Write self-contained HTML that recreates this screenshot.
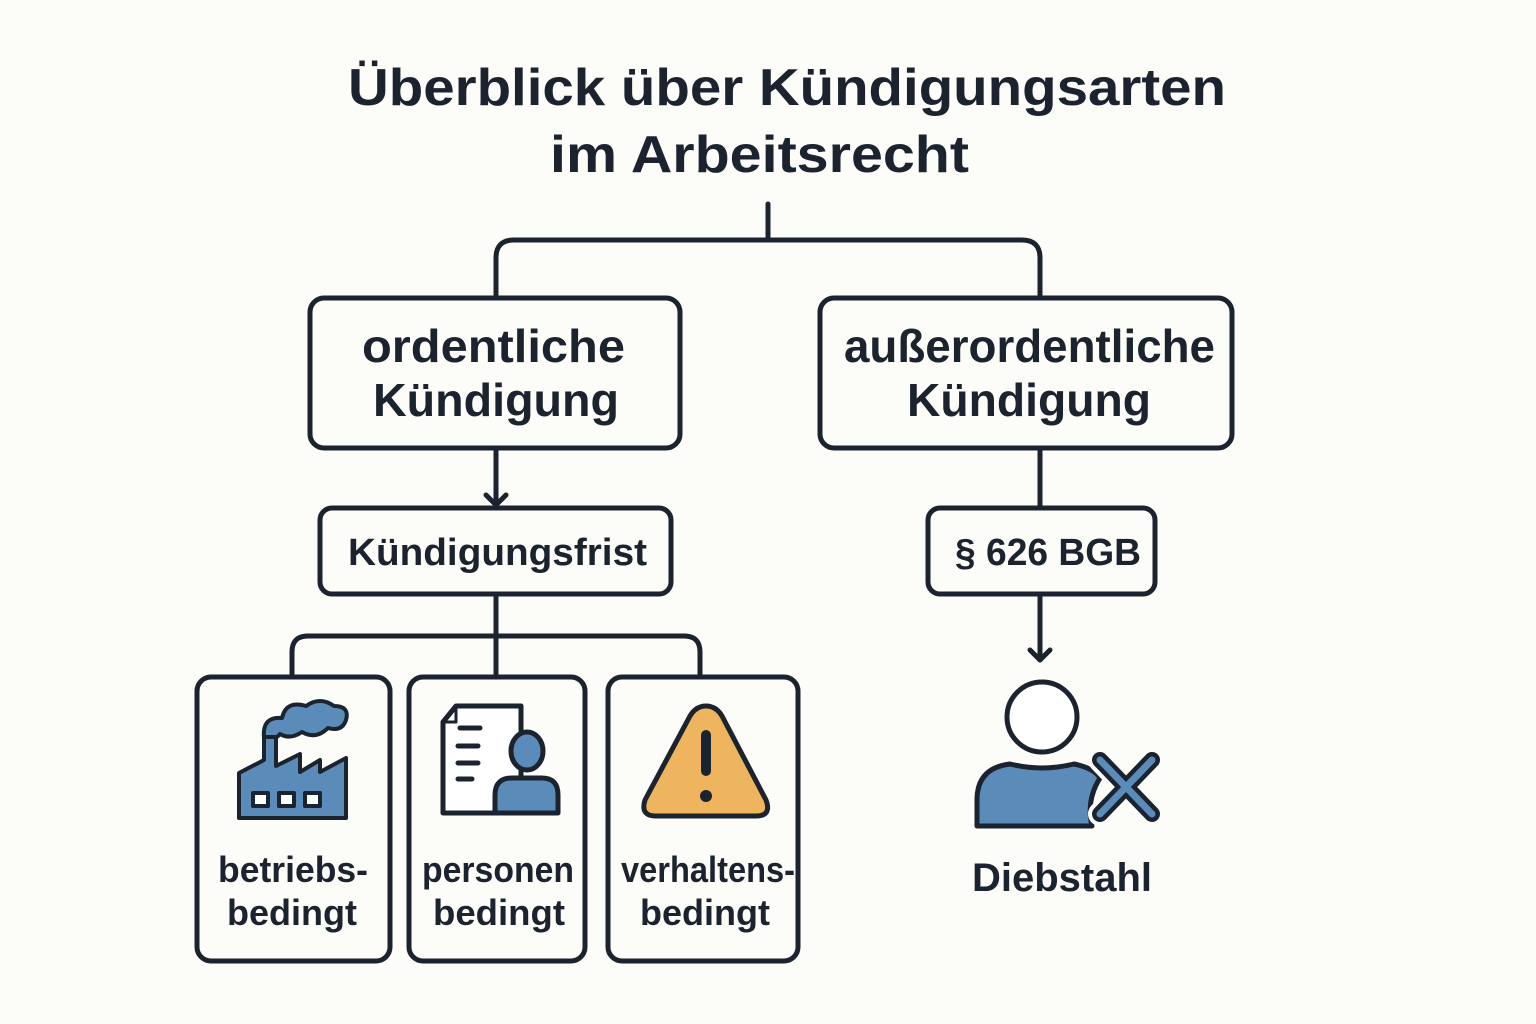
<!DOCTYPE html>
<html><head><meta charset="utf-8"><style>
html,body{margin:0;padding:0;background:#fcfcf9;}
svg{display:block}
text{font-family:"Liberation Sans","DejaVu Sans",sans-serif;fill:#1a232e;font-weight:bold}
</style></head><body>
<svg width="1536" height="1024" viewBox="0 0 1536 1024" xmlns="http://www.w3.org/2000/svg">
<rect width="1536" height="1024" fill="#fcfcf9"/>
<g font-size="52" lengthAdjust="spacingAndGlyphs">
<text x="348" y="105" textLength="878" lengthAdjust="spacingAndGlyphs">Überblick über Kündigungsarten</text>
<text x="550" y="172" textLength="419" lengthAdjust="spacingAndGlyphs">im Arbeitsrecht</text>
</g>
<g fill="none" stroke="#1a232e" stroke-width="5" stroke-linejoin="round" stroke-linecap="round">
<path d="M768 204 V240"/>
<path d="M496 298 V258 Q496 240 514 240 H1022 Q1040 240 1040 258 V298"/>
<rect x="310" y="298" width="370" height="150" rx="14"/>
<rect x="820" y="298" width="412" height="150" rx="14"/>
<path d="M496 448 V505"/>
<path d="M486 495 L496 505 L506 495"/>
<rect x="320" y="508" width="351" height="86" rx="12"/>
<path d="M1040 448 V508"/>
<rect x="928" y="508" width="227" height="86" rx="12"/>
<path d="M1040 594 V660"/>
<path d="M1030 650 L1040 660 L1050 650"/>
<path d="M496 594 V676"/>
<path d="M292 676 V652 Q292 636 308 636 H684 Q700 636 700 652 V676"/>
<rect x="197" y="677" width="193" height="284" rx="14"/>
<rect x="409" y="677" width="176" height="284" rx="14"/>
<rect x="608" y="677" width="190" height="284" rx="14"/>
</g>
<g font-size="46">
<text x="362" y="362" textLength="263" lengthAdjust="spacingAndGlyphs">ordentliche</text>
<text x="373" y="416" textLength="246" lengthAdjust="spacingAndGlyphs">Kündigung</text>
<text x="844" y="362" textLength="371" lengthAdjust="spacingAndGlyphs">außerordentliche</text>
<text x="907" y="416" textLength="244" lengthAdjust="spacingAndGlyphs">Kündigung</text>
</g>
<g font-size="38">
<text x="348" y="565" textLength="299" lengthAdjust="spacingAndGlyphs">Kündigungsfrist</text>
<text x="955" y="565" textLength="186" lengthAdjust="spacingAndGlyphs">§ 626 BGB</text>
</g>
<g font-size="36">
<text x="218" y="882" textLength="150" lengthAdjust="spacingAndGlyphs">betriebs-</text>
<text x="227" y="925" textLength="130" lengthAdjust="spacingAndGlyphs">bedingt</text>
<text x="422" y="882" textLength="152" lengthAdjust="spacingAndGlyphs">personen</text>
<text x="433" y="925" textLength="132" lengthAdjust="spacingAndGlyphs">bedingt</text>
<text x="621" y="882" textLength="174" lengthAdjust="spacingAndGlyphs">verhaltens-</text>
<text x="640" y="925" textLength="130" lengthAdjust="spacingAndGlyphs">bedingt</text>
<text x="972" y="891" font-size="40" textLength="180" lengthAdjust="spacingAndGlyphs">Diebstahl</text>
</g>
<!-- factory -->
<g stroke="#1a232e" stroke-width="4" stroke-linejoin="round">
<path d="M264 738 Q262 716 282 718 Q286 700 306 706 Q320 696 334 706 Q350 706 346 720 Q342 732 328 728 Q316 740 302 732 Q290 740 280 734 L276 738 Z" fill="#5b8bb8"/>
<path d="M239 818 V773 L264 760 V737 H276 V766 L300 754 V772 L320 760 V772 L346 758 V818 Z" fill="#5b8bb8"/>
<rect x="253" y="793" width="15" height="13" fill="#fff"/>
<rect x="279" y="793" width="15" height="13" fill="#fff"/>
<rect x="305" y="793" width="15" height="13" fill="#fff"/>
</g>
<!-- document person -->
<g stroke="#1a232e" stroke-width="5" stroke-linejoin="round" stroke-linecap="round">
<path d="M443 722 L456 706 H521 V813 H443 Z" fill="#fff"/>
<path d="M443 722 H456 V706" fill="none" stroke-width="3"/>
<path d="M470 727 H452" stroke="none"/>
<path d="M473 727 H451" stroke="none"/>
<path d="M476 727 H452" stroke="none"/>
<path d="M475 727 H472" stroke="none"/>
<path d="M473 728 H452" stroke="none"/>
</g>
<g stroke="#1a232e" stroke-width="5" stroke-linecap="round">
<path d="M473 727 H452" stroke="none"/>
<path d="M428 0" stroke="none"/>
<path d="M470 728 H452" stroke="none"/>
<path d="M472 727 H452" stroke="none"/>
<path d="M472 727 H452" stroke="none"/>
<path d="M475 727 H452" stroke="none"/>
<path d="M476 727 H452" stroke="none"/>
<path d="M474 727 H452" stroke="none"/>
<path d="M474 727 H452" stroke="none"/>
<path d="M472 727 H452" stroke="none"/>
<path d="M460 728 H480 M458 746 H478 M458 763 H478 M458 779 H472"/>
</g>
<g stroke="#1a232e" stroke-width="5" stroke-linejoin="round">
<ellipse cx="527" cy="751" rx="16" ry="19" fill="#5b8bb8"/>
<path d="M495 813 V795 Q495 778 512 778 H542 Q558 778 558 795 V813 Z" fill="#5b8bb8"/>
</g>
<!-- warning -->
<g stroke="#1a232e" stroke-width="5" stroke-linejoin="round">
<path d="M706 706 Q696 706 690 716 L645 800 Q640 816 656 816 H756 Q772 816 766 800 L722 716 Q716 706 706 706 Z" fill="#efb45e"/>
</g>
<rect x="701" y="730" width="10" height="46" rx="5" fill="#1a232e"/>
<circle cx="706" cy="796" r="6" fill="#1a232e"/>
<!-- person X -->
<g stroke="#1a232e" stroke-width="5" stroke-linejoin="round">
<circle cx="1042" cy="717" r="35" fill="#fff"/>
<path d="M977 826 V800 Q977 768 1010 764 Q1042 772 1074 764 Q1094 768 1100 778 Q1086 800 1092 826 Z" fill="#5b8bb8"/>
</g>
<g stroke-linecap="round">
<path d="M1100 760 L1152 814 M1152 760 L1100 814" stroke="#fcfcf9" stroke-width="24"/>
<path d="M1100 760 L1152 814 M1152 760 L1100 814" stroke="#1a232e" stroke-width="16"/>
<path d="M1100 760 L1152 814 M1152 760 L1100 814" stroke="#5b8bb8" stroke-width="7"/>
</g>
</svg>
</body></html>
